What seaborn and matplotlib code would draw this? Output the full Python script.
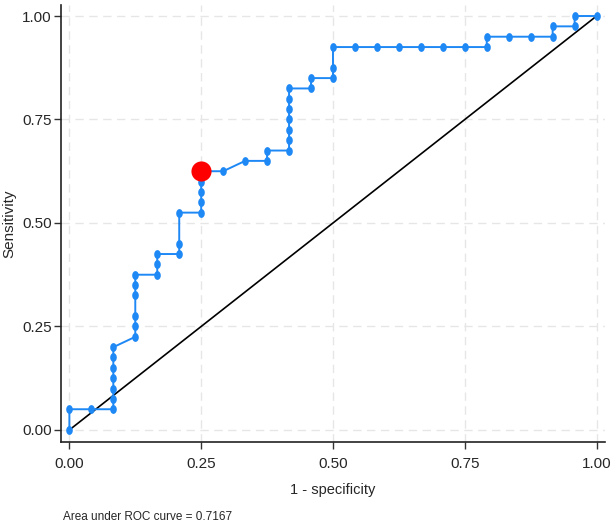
import numpy as np
import pandas as pd
import matplotlib
matplotlib.use("Agg")
import matplotlib.pyplot as plt
import seaborn as sns

# ROC points (24 negatives, 40 positives)
fp_count = [0, 0, 1, 2, 2, 2, 2, 2, 2, 2,
            3, 3, 3, 3, 3, 3, 4, 4, 4, 5,
            5, 5, 6, 6, 6, 6, 6, 7, 8, 9,
            9, 10, 10, 10, 10, 10, 10, 10, 11, 11,
            12, 12, 12, 13, 14, 15, 16, 17, 18, 19,
            19, 20, 21, 22, 22, 23, 23, 24]
tp_count = [0, 2, 2, 2, 3, 4, 5, 6, 7, 8,
            9, 10, 11, 13, 14, 15, 15, 16, 17, 17,
            18, 21, 21, 22, 23, 24, 25, 25, 26, 26,
            27, 27, 28, 29, 30, 31, 32, 33, 33, 34,
            34, 35, 37, 37, 37, 37, 37, 37, 37, 37,
            38, 38, 38, 38, 39, 39, 40, 40]
n_neg = 24
n_pos = 40
best_fpr = [0.25]
best_tpr = [0.625]
auc_text = "Area under ROC curve = 0.7167"
ticks = [0.0, 0.25, 0.5, 0.75, 1.0]
tick_labels = ["0.00", "0.25", "0.50", "0.75", "1.00"]

roc = pd.DataFrame({"fpr": np.array(fp_count) / n_neg,
                    "tpr": np.array(tp_count) / n_pos})
best = pd.DataFrame({"fpr": best_fpr, "tpr": best_tpr})
diag = pd.DataFrame({"x": [0, 1], "y": [0, 1]})

sns.set_style("white")
plt.rcParams['font.family'] = ['Liberation Sans', 'DejaVu Sans']

fig = plt.figure(figsize=(6.13, 5.25), dpi=100)
ax = fig.add_axes([0.099, 0.159, 0.888, 0.831])

# the reference looks squeezed sideways, so the dots are upright ellipses
t = np.linspace(0, 2 * np.pi, 40)
oval = np.column_stack([0.75 * np.cos(t), np.sin(t)])

blue = '#1e88f5'
sns.lineplot(data=roc, x="fpr", y="tpr", sort=False, estimator=None,
             color=blue, linewidth=1.4, ax=ax, zorder=3)
sns.scatterplot(data=roc, x="fpr", y="tpr", color=blue, s=40, marker=oval,
                edgecolor=blue, linewidth=0, ax=ax, zorder=4)
sns.lineplot(data=diag, x="x", y="y", color='black', linewidth=1.2,
             ax=ax, zorder=2)
sns.scatterplot(data=best, x="fpr", y="tpr", color='#ff0000', s=210,
                edgecolor='#ff0000', linewidth=0, ax=ax, zorder=5)

ax.set_xlim(-0.0165, 1.016)
ax.set_ylim(-0.028, 1.026)
ax.set_xticks(ticks)
ax.set_xticklabels(tick_labels, fontsize=11)
ax.set_yticks(ticks)
ax.set_yticklabels(tick_labels, fontsize=11)
ax.tick_params(axis='both', direction='out', length=5, width=1, color='#333333',
               bottom=True, left=True)
ax.tick_params(axis='x', pad=6)
ax.tick_params(axis='y', pad=1.5)
ax.grid(True, linestyle=(0, (6, 4)), color='#e6e6e6', linewidth=1)
ax.set_axisbelow(True)
for side in ['top', 'right']:
    ax.spines[side].set_visible(False)
for side in ['left', 'bottom']:
    ax.spines[side].set_color('#222222')
    ax.spines[side].set_linewidth(1.2)

ax.set_xlabel("1 - specificity", fontsize=10.5)
ax.set_ylabel("Sensitivity", fontsize=11)
ax.xaxis.set_label_coords(0.5, -0.095)
ax.yaxis.set_label_coords(-0.082, 0.5)
fig.text(0.103, 0.015, auc_text, fontsize=8.5, ha='left', va='center')

fig.savefig("out.png", dpi=100)
